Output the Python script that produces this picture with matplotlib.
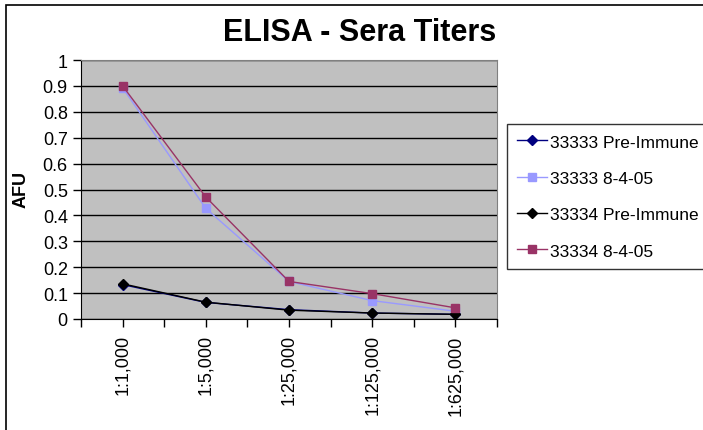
import numpy as np
import matplotlib.pyplot as plt
from matplotlib.patches import Rectangle

plt.rcParams['font.family'] = ['Liberation Sans', 'DejaVu Sans']

# Dilutions (categories)
dilutions = ['1:1,000', '1:5,000', '1:25,000', '1:125,000', '1:625,000']

# AFU readings per serum
pre_33333 = [0.133, 0.064, 0.036, 0.023, 0.018]
post_33333 = [0.893, 0.427, 0.145, 0.071, 0.030]
pre_33334 = [0.136, 0.065, 0.034, 0.023, 0.018]
post_33334 = [0.900, 0.471, 0.145, 0.098, 0.043]

labels = ['33333 Pre-Immune', '33333 8-4-05', '33334 Pre-Immune', '33334 8-4-05']

fig = plt.figure(figsize=(7.03, 4.31), dpi=100)
ax = fig.add_axes([81 / 703, 111 / 431, 416 / 703, 259 / 431])
ax.set_facecolor('#C0C0C0')

x = np.arange(len(dilutions))
ax.plot(x, pre_33333, color='#000080', marker='D', markersize=5, lw=1, label=labels[0])
ax.plot(x, post_33333, color='#9999FF', marker='s', markersize=5.5, lw=1, label=labels[1])
ax.plot(x, pre_33334, color='black', marker='D', markersize=5, lw=1, label=labels[2])
ax.plot(x, post_33334, color='#993366', marker='s', markersize=5.5, lw=1, label=labels[3])

ax.set_xlim(-0.5, len(dilutions) - 0.5)
ax.set_ylim(0, 1)
ax.set_yticks(np.arange(0, 1.01, 0.1))
ax.set_yticklabels(['0', '0.1', '0.2', '0.3', '0.4', '0.5', '0.6', '0.7', '0.8', '0.9', '1'])
ax.set_xticks(x)
ax.set_xticklabels(dilutions, rotation=90)
ax.set_xticks(np.arange(-0.5, len(dilutions)), minor=True)
ax.tick_params(axis='both', which='both', direction='out', length=6, width=1, labelsize=13)
ax.tick_params(axis='x', pad=5)
ax.yaxis.grid(True, color='black', lw=1)
ax.set_axisbelow(True)

for side in ['top', 'right']:
    ax.spines[side].set_color('#808080')
for side in ['left', 'bottom']:
    ax.spines[side].set_color('black')

fig.text(360 / 703, 1 - 33 / 431, 'ELISA - Sera Titers', fontsize=22, fontweight='bold',
         ha='center', va='center')
fig.text(21 / 703, 1 - 190 / 431, 'AFU', fontsize=13, fontweight='bold', rotation=90,
         ha='center', va='center')

leg = fig.legend(loc='upper left', bbox_to_anchor=(507 / 703, 1 - 125 / 431),
                 bbox_transform=fig.transFigure, borderaxespad=0, fontsize=12.5,
                 frameon=True, fancybox=False, shadow=False, labelspacing=1.22,
                 handlelength=1.7, handletextpad=0.2, borderpad=0.6)
leg.get_frame().set_edgecolor('black')
leg.get_frame().set_linewidth(1)

# outer chart border
fig.patches.append(Rectangle((6 / 703, -0.1), 1.2, 1 - 6 / 431 + 0.1, transform=fig.transFigure,
                             fill=False, edgecolor='black', lw=1.2))

fig.savefig('out.png', dpi=100)
